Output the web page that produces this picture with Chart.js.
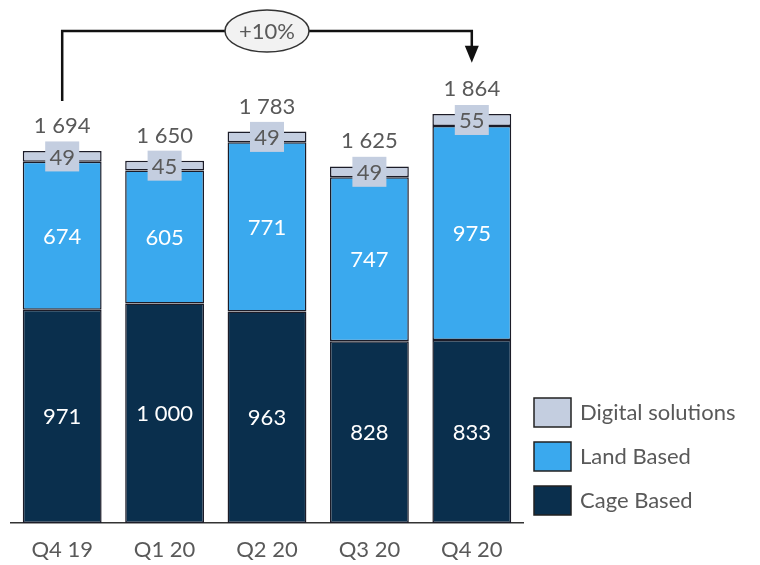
<!DOCTYPE html>
<html>
<head>
<meta charset="utf-8">
<script src="https://cdn.jsdelivr.net/npm/chart.js@4"></script>
<style>
    html, body { margin: 0; padding: 0; background: #fff; }
    #wrap { width: 760px; height: 565px; position: relative; }
</style>
</head>
<body>
<div id="wrap"><canvas id="chart"></canvas></div>
<script>
// Data
const quarters = ['Q4 19', 'Q1 20', 'Q2 20', 'Q3 20', 'Q4 20'];
const cageBased = [971, 1000, 963, 828, 833];
const landBased = [674, 605, 771, 747, 975];
const digitalSolutions = [49, 45, 49, 49, 55];
// totals as printed above the bars (rounded in the source)
const totals = [1694, 1650, 1783, 1625, 1864];
const growthLabel = '+10%';

const FONT = 'Lato, "Open Sans", sans-serif';
const GREY_TEXT = '#595959';

// Format numbers like "1 694"
function fmt(v) {
    return v >= 1000 ? Math.floor(v / 1000) + ' ' + String(v % 1000).padStart(3, '0') : String(v);
}

// Labels inside segments, totals on top, +10% arrow and legend
const overlayPlugin = {
    id: 'overlay',
    afterDatasetsDraw(chart) {
        const ctx = chart.ctx;
        const x = chart.scales.x;
        const y = chart.scales.y;
        ctx.save();
        ctx.textAlign = 'center';
        ctx.textBaseline = 'middle';
        ctx.font = '22px ' + FONT;

        chart.data.datasets.forEach((ds, di) => {
            const meta = chart.getDatasetMeta(di);
            meta.data.forEach((bar, i) => {
                const cy = (bar.y + bar.base) / 2;
                const label = fmt(ds.data[i]);
                if (ds.label === 'Digital solutions') {
                    ctx.fillStyle = ds.backgroundColor;
                    ctx.fillRect(bar.x - 17, cy - 15, 34, 30);
                    ctx.fillStyle = GREY_TEXT;
                } else {
                    ctx.fillStyle = '#ffffff';
                }
                ctx.fillText(label, bar.x, cy + 1);
            });
        });

        // Totals above bars
        ctx.fillStyle = GREY_TEXT;
        totals.forEach((t, i) => {
            ctx.fillText(fmt(t), x.getPixelForValue(i), y.getPixelForValue(t) - 25);
        });

        // Growth arrow from first to last bar
        const x0 = x.getPixelForValue(0);
        const x1 = x.getPixelForValue(quarters.length - 1);
        const yStart = y.getPixelForValue(totals[0]) - 50;
        const yEnd = y.getPixelForValue(totals[totals.length - 1]) - 51;
        const yTop = 31;
        ctx.strokeStyle = '#111';
        ctx.lineWidth = 2.5;
        ctx.beginPath();
        ctx.moveTo(x0, yStart);
        ctx.lineTo(x0, yTop);
        ctx.lineTo(x1, yTop);
        ctx.lineTo(x1, yEnd - 14);
        ctx.stroke();
        ctx.fillStyle = '#111';
        ctx.beginPath();
        ctx.moveTo(x1 - 7, yEnd - 17);
        ctx.lineTo(x1 + 7, yEnd - 17);
        ctx.lineTo(x1, yEnd);
        ctx.closePath();
        ctx.fill();

        const mx = (x0 + x1) / 2;
        ctx.beginPath();
        ctx.ellipse(mx, yTop, 42, 21, 0, 0, Math.PI * 2);
        ctx.fillStyle = '#f2f2f2';
        ctx.fill();
        ctx.lineWidth = 1.5;
        ctx.strokeStyle = '#333';
        ctx.stroke();
        ctx.fillStyle = GREY_TEXT;
        ctx.fillText(growthLabel, mx, yTop + 1);

        // Legend (top to bottom: digital, land, cage)
        ctx.textAlign = 'left';
        const legendItems = chart.data.datasets.slice().reverse();
        legendItems.forEach((ds, k) => {
            const ly = 398 + k * 44;
            ctx.fillStyle = ds.backgroundColor;
            ctx.fillRect(534, ly, 37, 29);
            ctx.lineWidth = 1.5;
            ctx.strokeStyle = '#222';
            ctx.strokeRect(534, ly, 37, 29);
            ctx.fillStyle = GREY_TEXT;
            ctx.fillText(ds.label, 580, ly + 15);
        });
        ctx.restore();
    }
};

new Chart(document.getElementById('chart'), {
    type: 'bar',
    data: {
        labels: quarters,
        datasets: [
            { label: 'Cage Based', data: cageBased, backgroundColor: '#0a2f4d' },
            { label: 'Land Based', data: landBased, backgroundColor: '#3aa9ee' },
            { label: 'Digital solutions', data: digitalSolutions, backgroundColor: '#c4cee0' }
        ]
    },
    options: {
        responsive: true,
        maintainAspectRatio: false,
        animation: false,
        layout: { padding: { left: 11, right: 237, top: 18, bottom: 0 } },
        datasets: {
            bar: {
                borderColor: '#1c1c28',
                borderWidth: 1.5,
                borderSkipped: false,
                categoryPercentage: 0.77,
                barPercentage: 1
            }
        },
        plugins: {
            legend: { display: false },
            tooltip: { enabled: false }
        },
        scales: {
            x: {
                stacked: true,
                grid: { display: false, drawTicks: false },
                border: { display: true, color: '#333', width: 1.5 },
                ticks: { color: GREY_TEXT, font: { family: FONT, size: 22 }, padding: 14 },
                afterFit(scale) { scale.height = 42; }
            },
            y: {
                stacked: true,
                display: false,
                min: 0,
                max: 2300
            }
        }
    },
    plugins: [overlayPlugin]
});
</script>
</body>
</html>
